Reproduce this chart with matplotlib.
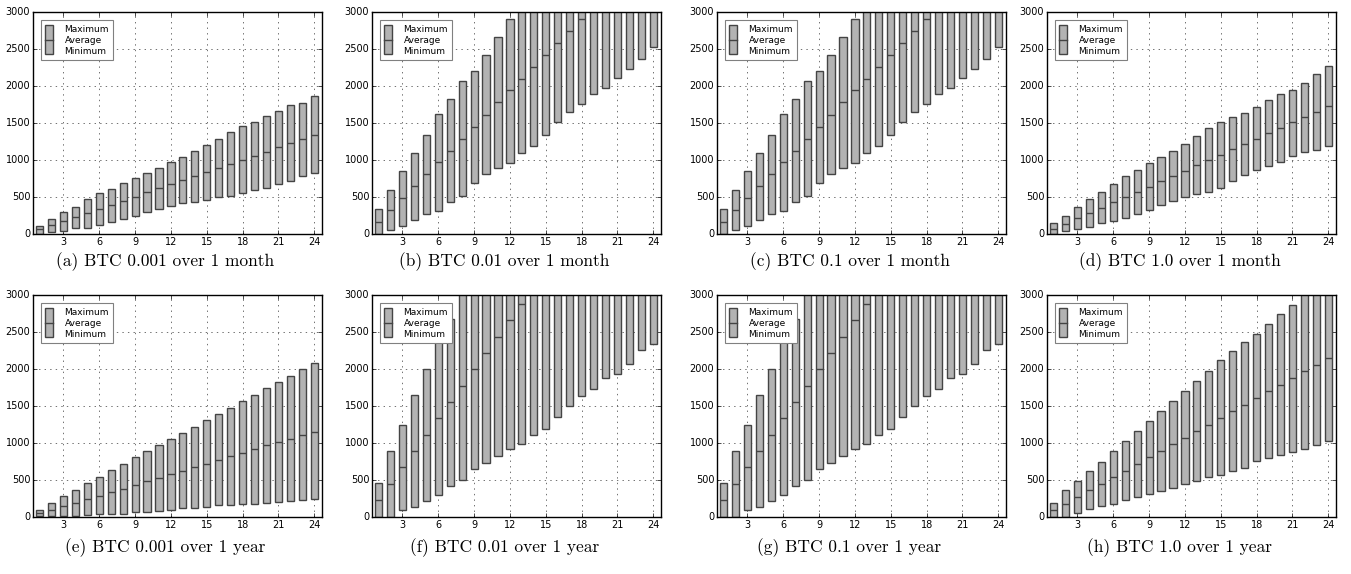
import numpy as np
import matplotlib
matplotlib.use('Agg')
import matplotlib.pyplot as plt
from matplotlib.patches import Rectangle
from matplotlib.lines import Line2D
from matplotlib.legend_handler import HandlerBase

plt.style.use('classic')

runs = np.arange(1, 25)

# BTC 0.001, 1 month
max_a = [113, 198, 298, 370, 469, 550, 613, 686, 753, 821, 898, 970, 1042, 1128, 1204, 1290, 1376, 1453, 1520, 1601, 1656, 1737, 1777, 1859]
avg_a = [63, 117, 176, 226, 280, 334, 388, 451, 505, 564, 618, 672, 726, 780, 835, 889, 947, 1001, 1060, 1114, 1173, 1227, 1281, 1335]
min_a = [5, 23, 36, 77, 86, 122, 167, 207, 248, 302, 334, 374, 415, 438, 465, 496, 519, 550, 600, 622, 681, 713, 780, 821]

# BTC 0.01 / 0.1, 1 month
max_b = [339, 597, 851, 1095, 1344, 1624, 1828, 2072, 2208, 2425, 2656, 2905, 3150, 3400, 3650, 3900, 4150, 4400, 4650, 4900, 5150, 5400, 5650, 5900]
avg_b = [167, 321, 489, 647, 805, 968, 1127, 1290, 1448, 1611, 1778, 1941, 2095, 2253, 2416, 2579, 2742, 2905, 3065, 3230, 3390, 3555, 3720, 3880]
min_b = [0, 54, 109, 190, 271, 308, 434, 507, 692, 805, 896, 964, 1100, 1195, 1344, 1507, 1643, 1751, 1887, 1973, 2104, 2226, 2362, 2525]

# BTC 1.0, 1 month
max_d = [145, 244, 362, 471, 561, 679, 783, 864, 959, 1041, 1127, 1213, 1326, 1434, 1516, 1584, 1638, 1720, 1815, 1891, 1950, 2045, 2160, 2272]
avg_d = [68, 136, 213, 285, 353, 430, 498, 570, 638, 715, 787, 855, 932, 1005, 1072, 1149, 1222, 1290, 1367, 1439, 1507, 1579, 1652, 1724]
min_d = [0, 36, 63, 90, 149, 176, 217, 271, 326, 394, 443, 502, 534, 570, 624, 710, 801, 869, 919, 973, 1059, 1113, 1140, 1186]

# BTC 0.001, 1 year
max_e = [99, 189, 280, 365, 460, 541, 632, 722, 812, 893, 974, 1056, 1137, 1222, 1313, 1394, 1475, 1561, 1651, 1737, 1822, 1904, 1994, 2075]
avg_e = [54, 95, 144, 189, 244, 289, 338, 383, 433, 483, 532, 586, 623, 677, 722, 771, 821, 866, 916, 970, 1019, 1060, 1110, 1150]
min_e = [9, 9, 18, 9, 32, 41, 41, 45, 63, 72, 86, 99, 117, 126, 140, 158, 167, 176, 180, 194, 203, 217, 230, 244]

# BTC 0.01 / 0.1, 1 year
max_f = [465, 895, 1242, 1645, 2006, 2400, 2675, 3050, 3400, 3750, 4100, 4450, 4800, 5150, 5500, 5850, 6200, 6550, 6900, 7250, 7600, 7950, 8300, 8650]
avg_f = [226, 452, 669, 886, 1111, 1335, 1550, 1771, 1997, 2218, 2431, 2661, 2883, 3100, 3320, 3540, 3760, 3980, 4200, 4420, 4640, 4860, 5080, 5300]
min_f = [0, 0, 90, 136, 217, 303, 425, 506, 646, 727, 822, 922, 989, 1102, 1193, 1351, 1504, 1640, 1730, 1875, 1938, 2074, 2254, 2336]

# BTC 1.0, 1 year
max_h = [189, 365, 487, 618, 744, 889, 1033, 1159, 1295, 1434, 1565, 1705, 1840, 1967, 2116, 2246, 2368, 2477, 2612, 2743, 2869, 3010, 3140, 3270]
avg_h = [99, 180, 271, 361, 447, 541, 627, 717, 807, 893, 988, 1074, 1164, 1250, 1340, 1434, 1516, 1610, 1701, 1786, 1881, 1967, 2053, 2147]
min_h = [0, 0, 54, 104, 149, 180, 226, 275, 311, 356, 392, 442, 483, 541, 568, 618, 668, 762, 794, 835, 884, 920, 974, 1024]

captions = ["(a) BTC 0.001 over 1 month", "(b) BTC 0.01 over 1 month",
            "(c) BTC 0.1 over 1 month", "(d) BTC 1.0 over 1 month",
            "(e) BTC 0.001 over 1 year", "(f) BTC 0.01 over 1 year",
            "(g) BTC 0.1 over 1 year", "(h) BTC 1.0 over 1 year"]
panels = [(max_a, avg_a, min_a), (max_b, avg_b, min_b), (max_b, avg_b, min_b), (max_d, avg_d, min_d),
          (max_e, avg_e, min_e), (max_f, avg_f, min_f), (max_f, avg_f, min_f), (max_h, avg_h, min_h)]
legend_labels = ["Maximum", "Average", "Minimum"]

BAR_FACE = '#b3b3b3'
BAR_EDGE = '#444444'


class RangeHandler(HandlerBase):
    # one box spanning all three legend rows, drawn from the middle entry
    def __init__(self, draw):
        HandlerBase.__init__(self)
        self.draw = draw

    def create_artists(self, legend, orig_handle, xdescent, ydescent,
                       width, height, fontsize, trans):
        w = width * 0.85
        x0 = -xdescent + (width - w) / 2
        y0 = -ydescent
        if not self.draw:
            return [Rectangle((x0, y0), w, height, visible=False, transform=trans)]
        rect = Rectangle((x0, y0 - 0.85 * height), w, 2.7 * height, facecolor=BAR_FACE,
                         edgecolor=BAR_EDGE, linewidth=1, transform=trans)
        mid = Line2D([x0, x0 + w], [y0 + height / 2] * 2, color=BAR_EDGE,
                     linewidth=1, transform=trans)
        return [rect, mid]


fig = plt.figure(figsize=(13.51, 5.74), dpi=100, facecolor='white')
W, H = 1351.0, 574.0
lefts = [33, 372, 717, 1047]
tops = [12, 295]
aw, ah = 289, 222

for i, (mx, av, mn) in enumerate(panels):
    row, col = divmod(i, 4)
    left, top = lefts[col], tops[row]
    ax = fig.add_axes([left / W, 1 - (top + ah) / H, aw / W, ah / H])
    ax.set_facecolor('white')
    mx, av, mn = np.array(mx), np.array(av), np.array(mn)
    ax.bar(runs, mx - mn, bottom=mn, width=0.6, color=BAR_FACE,
           edgecolor=BAR_EDGE, linewidth=1, align='center', zorder=2)
    ax.hlines(av, runs - 0.3, runs + 0.3, colors=BAR_EDGE, linewidth=1, zorder=3)
    ax.set_xlim(0.45, 24.65)
    ax.set_ylim(0, 3000)
    ax.set_xticks(range(3, 25, 3))
    ax.set_yticks(range(0, 3001, 500))
    ax.tick_params(labelsize=7, length=3, pad=2)
    ax.grid(True, linestyle=':', color='0.35', linewidth=0.6, zorder=0)
    ax.set_axisbelow(True)

    h_top, h_mid, h_bot = Rectangle((0, 0), 1, 1), Rectangle((0, 0), 1, 1), Rectangle((0, 0), 1, 1)
    leg = ax.legend([h_top, h_mid, h_bot], legend_labels,
                    handler_map={h_top: RangeHandler(False), h_mid: RangeHandler(True),
                                 h_bot: RangeHandler(False)},
                    loc='upper left', fontsize=6.5,
                    handlelength=1.0, handleheight=1.45, labelspacing=0,
                    handletextpad=1.2, borderpad=0.4, borderaxespad=0.9,
                    frameon=True, fancybox=False)
    leg.get_frame().set_edgecolor('0.5')
    leg.get_frame().set_linewidth(0.8)
    leg.set_zorder(5)

    cy = 262 if row == 0 else 548
    cx = left + aw / 2 - 12
    fig.text(cx / W, 1 - cy / H, captions[i], ha='center', va='center',
             fontsize=12.5, family='cmr10')

fig.savefig('out.png', dpi=100, facecolor='white')
